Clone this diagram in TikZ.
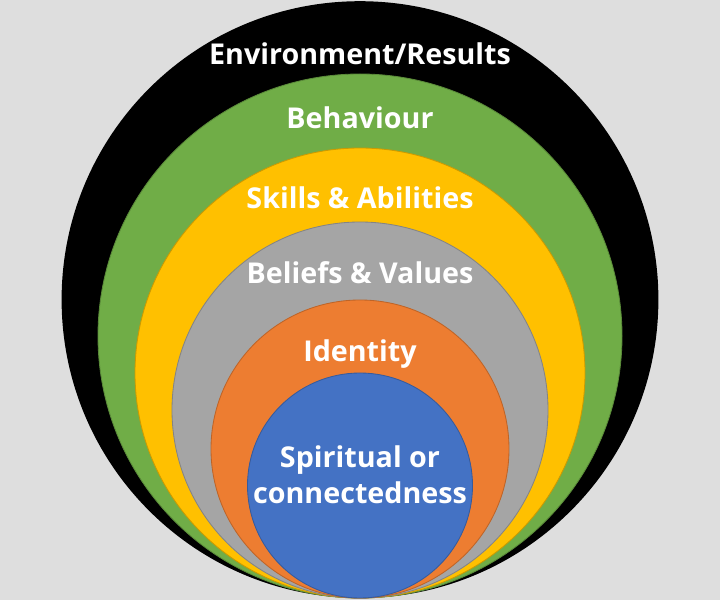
\documentclass[tikz,border=0pt]{standalone}
\usepackage{fontspec}
\setmainfont{Open Sans}
\usetikzlibrary{positioning}

\definecolor{bggray}{RGB}{222,222,222}
\definecolor{envblack}{RGB}{0,0,0}
\definecolor{behgreen}{RGB}{112,173,71}
\definecolor{skillyellow}{RGB}{255,192,0}
\definecolor{beliefgray}{RGB}{165,165,165}
\definecolor{idorange}{RGB}{237,125,49}
\definecolor{spiritblue}{RGB}{68,114,196}

\begin{document}
\begin{tikzpicture}[
    ring/.style={circle, inner sep=0pt, draw=#1!80!black, fill=#1, line width=0.6pt},
    lbl/.style={font=\bfseries\fontsize{20.4pt}{26.2pt}\selectfont, text=white,
        inner sep=0pt, text height=0.5cm, align=center}
]

% --- background ---
\fill[bggray] (0,0) rectangle (18,15);

% --- nested levels, all touching at the bottom ---
\node[ring=envblack, draw=none, minimum size=14.92cm] (env) at (9,7.51) {};
\node[ring=behgreen, minimum size=13.1cm] (beh) at (9,6.6) {};
\node[ring=skillyellow, minimum size=11.25cm] (skill) at (9,5.675) {};
\node[ring=beliefgray, minimum size=9.4cm] (belief) at (9,4.75) {};
\node[ring=idorange, minimum size=7.45cm] (ident) at (9,3.775) {};
\node[ring=spiritblue, minimum size=5.625cm] (spirit) at (9,2.8625) {};

% --- labels ---
\node[lbl, below=1.075cm of env.north] (tenv) {Environment/Results};
\node[lbl, below=0.875cm of beh.north] (tbeh) {Behaviour};
\node[lbl, below=1.025cm of skill.north] (tskill) {Skills \& Abilities};
\node[lbl, below=1.05cm of belief.north] (tbelief) {Beliefs \& Values};
\node[lbl, below=1.05cm of ident.north] (tident) {Identity};
\node[lbl, below=2.775cm of spirit.north] (tspirit) {Spiritual or\\connectedness};

\end{tikzpicture}
\end{document}
